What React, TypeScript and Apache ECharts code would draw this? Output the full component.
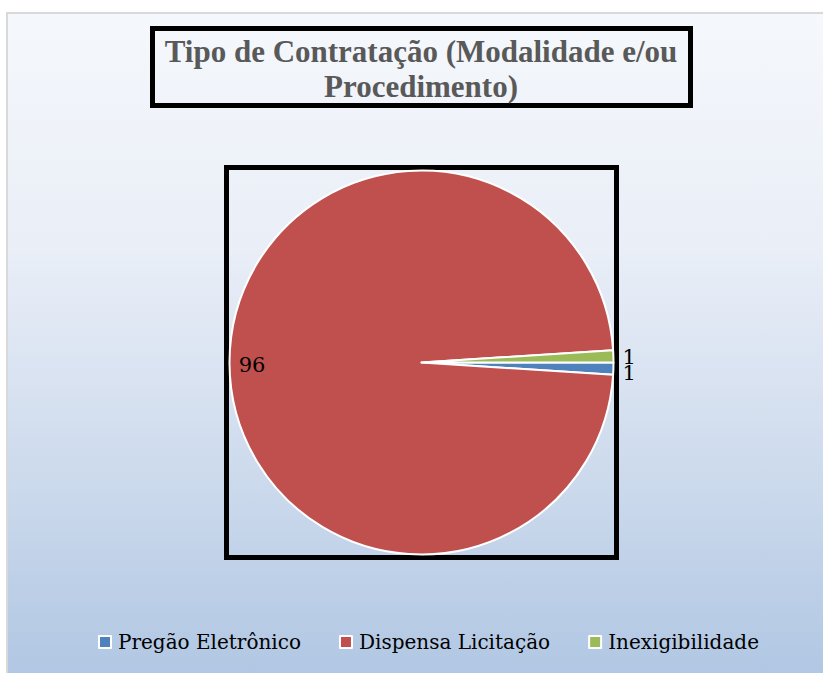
import React, { useEffect, useRef } from "react";
import * as echarts from "echarts";

const titleText = "Tipo de Contratação (Modalidade e/ou\nProcedimento)";
const categories = ["Pregão Eletrônico", "Dispensa Licitação", "Inexigibilidade"];
const values = [1, 96, 1];
const colors = ["#4f81bd", "#c0504d", "#9bbb59"];
// small vertical nudges of the outside labels, px
const labelNudges = [-6, 0, 1];

export default function App() {
  const ref = useRef<HTMLDivElement>(null);
  useEffect(() => {
    const chart = echarts.init(ref.current!, null, { renderer: "svg" });
    const mainData = categories.map((name, i) => ({
      name,
      value: values[i],
      itemStyle: { color: colors[i] },
      label: { show: values[i] < 50 },
    }));
    const labelData = categories.map((name, i) => ({
      name,
      value: values[i],
      itemStyle: { color: "rgba(0,0,0,0)" },
      label: { show: values[i] >= 50 },
    }));
    const bg = new echarts.graphic.LinearGradient(0, 0, 0, 1, [
      { offset: 0, color: "#f5f8fc" },
      { offset: 0.35, color: "#e9eef7" },
      { offset: 0.7, color: "#cbd9ec" },
      { offset: 1, color: "#aec5e2" },
    ]);
    chart.setOption({
      animation: false,
      backgroundColor: "#ffffff",
      graphic: [
        {
          type: "rect",
          shape: { x: 7, y: 13, width: 840, height: 680 },
          style: { fill: bg, stroke: "#d9d9d9", lineWidth: 2 },
        },
        {
          type: "rect",
          shape: { x: 152.5, y: 28.5, width: 538, height: 77 },
          style: { fill: "none", stroke: "#000", lineWidth: 5 },
        },
        {
          type: "rect",
          shape: { x: 226.5, y: 167.5, width: 390, height: 390 },
          style: { fill: "none", stroke: "#000", lineWidth: 5 },
        },
      ],
      title: {
        text: titleText,
        left: 421,
        top: 34,
        padding: 0,
        textAlign: "center",
        textStyle: {
          fontFamily: "Liberation Serif",
          fontWeight: "bold",
          fontSize: 31,
          lineHeight: 35,
          color: "#595959",
        },
      },
      legend: {
        data: categories,
        left: 93,
        top: 627,
        itemWidth: 12,
        itemHeight: 12,
        itemGap: 38,
        icon: "rect",
        itemStyle: { borderColor: "#ffffff", borderWidth: 2 },
        textStyle: {
          fontFamily: "DejaVu Serif",
          fontSize: 20,
          color: "#000",
          padding: [0, 0, 0, 2],
        },
      },
      series: [
        {
          type: "pie",
          center: [421.5, 362.5],
          radius: 192,
          startAngle: 0,
          clockwise: true,
          itemStyle: { borderColor: "#ffffff", borderWidth: 2 },
          emphasis: { disabled: true },
          label: {
            position: "outside",
            formatter: "{c}",
            fontFamily: "DejaVu Serif",
            fontSize: 21,
            color: "#000000",
            textBorderWidth: 0,
            distanceToLabelLine: 0,
          },
          labelLine: { show: false, length: 9, length2: 0 },
          labelLayout: (p: any) => ({ dy: labelNudges[p.dataIndex] || 0 }),
          data: mainData,
        },
        {
          type: "pie",
          center: [421.5, 364.5],
          radius: [141, 192],
          startAngle: 0,
          clockwise: true,
          silent: true,
          legendHoverLink: false,
          emphasis: { disabled: true },
          itemStyle: { borderWidth: 0 },
          label: {
            position: "inside",
            formatter: "{c}",
            fontFamily: "DejaVu Serif",
            fontSize: 21,
            color: "#000",
          },
          labelLine: { show: false },
          data: labelData,
        },
      ],
    });
    return () => chart.dispose();
  }, []);
  return (
    <div
      ref={ref}
      style={{ position: "absolute", left: 0, top: 0, width: 823, height: 673 }}
    />
  );
}
